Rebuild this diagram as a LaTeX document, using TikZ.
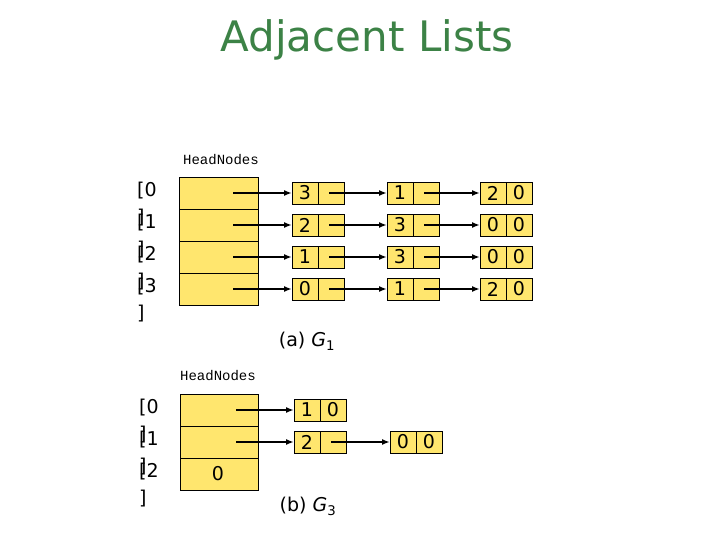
\documentclass[tikz,border=0pt]{standalone}
\usepackage{fontspec}
\setmainfont{DejaVu Sans}
\setmonofont{Liberation Mono}
\usetikzlibrary{arrows.meta}
\definecolor{cellfill}{RGB}{255,230,110}
\definecolor{titlegreen}{RGB}{60,130,70}
\tikzset{
 cell/.style={draw,fill=cellfill,line width=0.7pt},
 lbl/.style={font=\fontsize{19}{19}\selectfont,inner sep=0pt},
 arr/.style={-{Latex[length=8pt,width=6pt]},line width=1.6pt},
 hn/.style={font=\ttfamily\fontsize{14}{14}\selectfont},
}
\newcommand{\lnode}[5]{% name, x, y, a, b
 \draw[cell] (#2,#3-11) rectangle (#2+26,#3+11);
 \draw[cell] (#2+26,#3-11) rectangle (#2+52,#3+11);
 \node[lbl] (#1a) at (#2+13,#3) {#4};
 \node[lbl] (#1b) at (#2+39,#3) {#5};
 \coordinate (#1in) at (#2,#3);
 \coordinate (#1out) at (#2+37,#3);
}
\begin{document}
\begin{tikzpicture}[x=1pt,y=-1pt]
\useasboundingbox (0,0) rectangle (720,540);
\node[text=titlegreen,font=\fontsize{42}{42}\selectfont] (title) at (367,40) {Adjacent Lists};
% (a)
\node[hn] (hna) at (221,160) {HeadNodes};
\foreach \i/\y in {0/193,1/225,2/257,3/289}{
 \draw[cell] (179,\y-16) rectangle (258,\y+16);
 \coordinate (ha\i) at (233,\y);
 \node[lbl,anchor=west] (la\i) at (137,\y-2) {[\i};
 \node[lbl,anchor=west] (ra\i) at (137,\y+25) {]};
}
\lnode{a01}{292}{193}{3}{}
\lnode{a02}{387}{193}{1}{}
\lnode{a03}{480}{193}{2}{0}
\lnode{a11}{292}{225}{2}{}
\lnode{a12}{387}{225}{3}{}
\lnode{a13}{480}{225}{0}{0}
\lnode{a21}{292}{257}{1}{}
\lnode{a22}{387}{257}{3}{}
\lnode{a23}{480}{257}{0}{0}
\lnode{a31}{292}{289}{0}{}
\lnode{a32}{387}{289}{1}{}
\lnode{a33}{480}{289}{2}{0}
\foreach \i in {0,1,2,3}{
 \draw[arr] (ha\i) -- (a\i1in);
 \draw[arr] (a\i1out) -- (a\i2in);
 \draw[arr] (a\i2out) -- (a\i3in);
}
\node[lbl] (capa) at (307,341) {(a) \textit{G}\textsubscript{1}};
% (b)
\node[hn] (hnb) at (218,376) {HeadNodes};
\foreach \i/\y in {0/410,1/442,2/474}{
 \draw[cell] (180,\y-16) rectangle (258,\y+16);
 \coordinate (hb\i) at (236,\y);
 \node[lbl,anchor=west] (lb\i) at (139,\y-2) {[\i};
 \node[lbl,anchor=west] (rb\i) at (139,\y+25) {]};
}
\node[lbl] (zero) at (218,474) {0};
\lnode{b01}{294}{410}{1}{0}
\lnode{b11}{294}{442}{2}{}
\lnode{b12}{390}{442}{0}{0}
\draw[arr] (hb0) -- (b01in);
\draw[arr] (hb1) -- (b11in);
\draw[arr] (b11out) -- (b12in);
\node[lbl] (capb) at (308,506) {(b) \textit{G}\textsubscript{3}};
\end{tikzpicture}
\end{document}
